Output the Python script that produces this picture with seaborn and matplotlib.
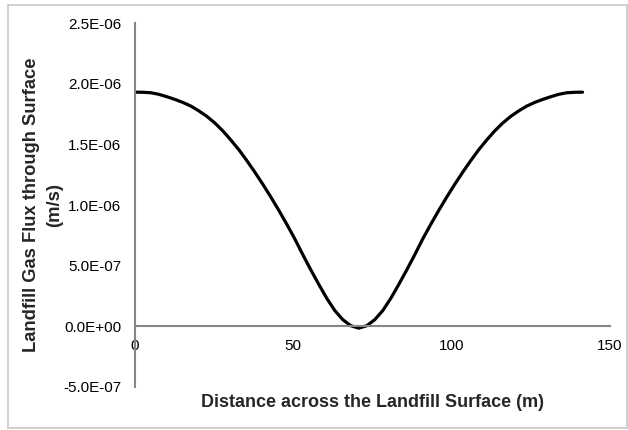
import numpy as np
import pandas as pd
import matplotlib
matplotlib.use("Agg")
import matplotlib.pyplot as plt
import seaborn as sns
from matplotlib.patches import Rectangle

# Distance across the surface (m), 57 evenly spaced stations from 0 to 141.4 m
distance = np.linspace(0, 141.4, 57)

# Gas flux (m/s), left half down to the trough then back up
flux_e6 = [1.930, 1.929, 1.925, 1.912, 1.892, 1.870, 1.845, 1.815, 1.775,
           1.730, 1.675, 1.610, 1.535, 1.455, 1.365, 1.270, 1.170, 1.065,
           0.955, 0.840, 0.720, 0.590, 0.465, 0.345, 0.230, 0.130, 0.055,
           0.005, -0.015,
           0.005, 0.055, 0.130, 0.230, 0.345, 0.465, 0.590, 0.720, 0.840,
           0.955, 1.065, 1.170, 1.270, 1.365, 1.455, 1.535, 1.610, 1.675,
           1.730, 1.775, 1.815, 1.845, 1.870, 1.892, 1.912, 1.925, 1.929,
           1.930]

x_ticks = [0, 50, 100, 150]
y_ticks = [-5e-7, 0, 5e-7, 1e-6, 1.5e-6, 2e-6, 2.5e-6]

df = pd.DataFrame({"distance": distance, "flux": np.array(flux_e6) * 1e-6})

sns.set_style("white")
plt.rcParams["font.family"] = ["Liberation Sans", "DejaVu Sans"]

fig = plt.figure(figsize=(6.28, 4.30), dpi=100)
ax = fig.add_axes([0.215, 0.100, 0.756, 0.8465])

sns.lineplot(data=df, x="distance", y="flux", color="black", linewidth=2.3, ax=ax)

ax.set_xlim(0, 150)
ax.set_ylim(-5e-7, 2.5e-6)
ax.set_xticks(x_ticks)
ax.set_yticks(y_ticks)
ax.set_yticklabels(["{:.1E}".format(v) for v in y_ticks])
ax.tick_params(length=0, labelsize=11, colors="black")
ax.tick_params(axis="y", pad=10)
ax.tick_params(axis="x", pad=9)

# Excel-style axes: vertical axis at x=0, horizontal axis crossing at y=0
for side in ["top", "right"]:
    ax.spines[side].set_visible(False)
ax.spines["bottom"].set_position(("data", 0))
for side in ["left", "bottom"]:
    ax.spines[side].set_color("#868686")
    ax.spines[side].set_linewidth(1.5)

ax.set_xlabel("")
ax.set_ylabel("")
fig.text(0.593, 0.065, "Distance across the Landfill Surface (m)",
         ha="center", va="center", fontsize=13, fontweight="bold")
fig.text(0.069, 0.523, "Landfill Gas Flux through Surface\n(m/s)",
         ha="center", va="center", rotation=90, fontsize=13.2,
         fontweight="bold", linespacing=1.45)

# chart border
fig.patches.append(Rectangle((8 / 628, 2 / 430), 619 / 628, 423 / 430,
                             transform=fig.transFigure, fill=False,
                             edgecolor="#c8c8c8", linewidth=1.2))

fig.savefig("out.png", dpi=100)
